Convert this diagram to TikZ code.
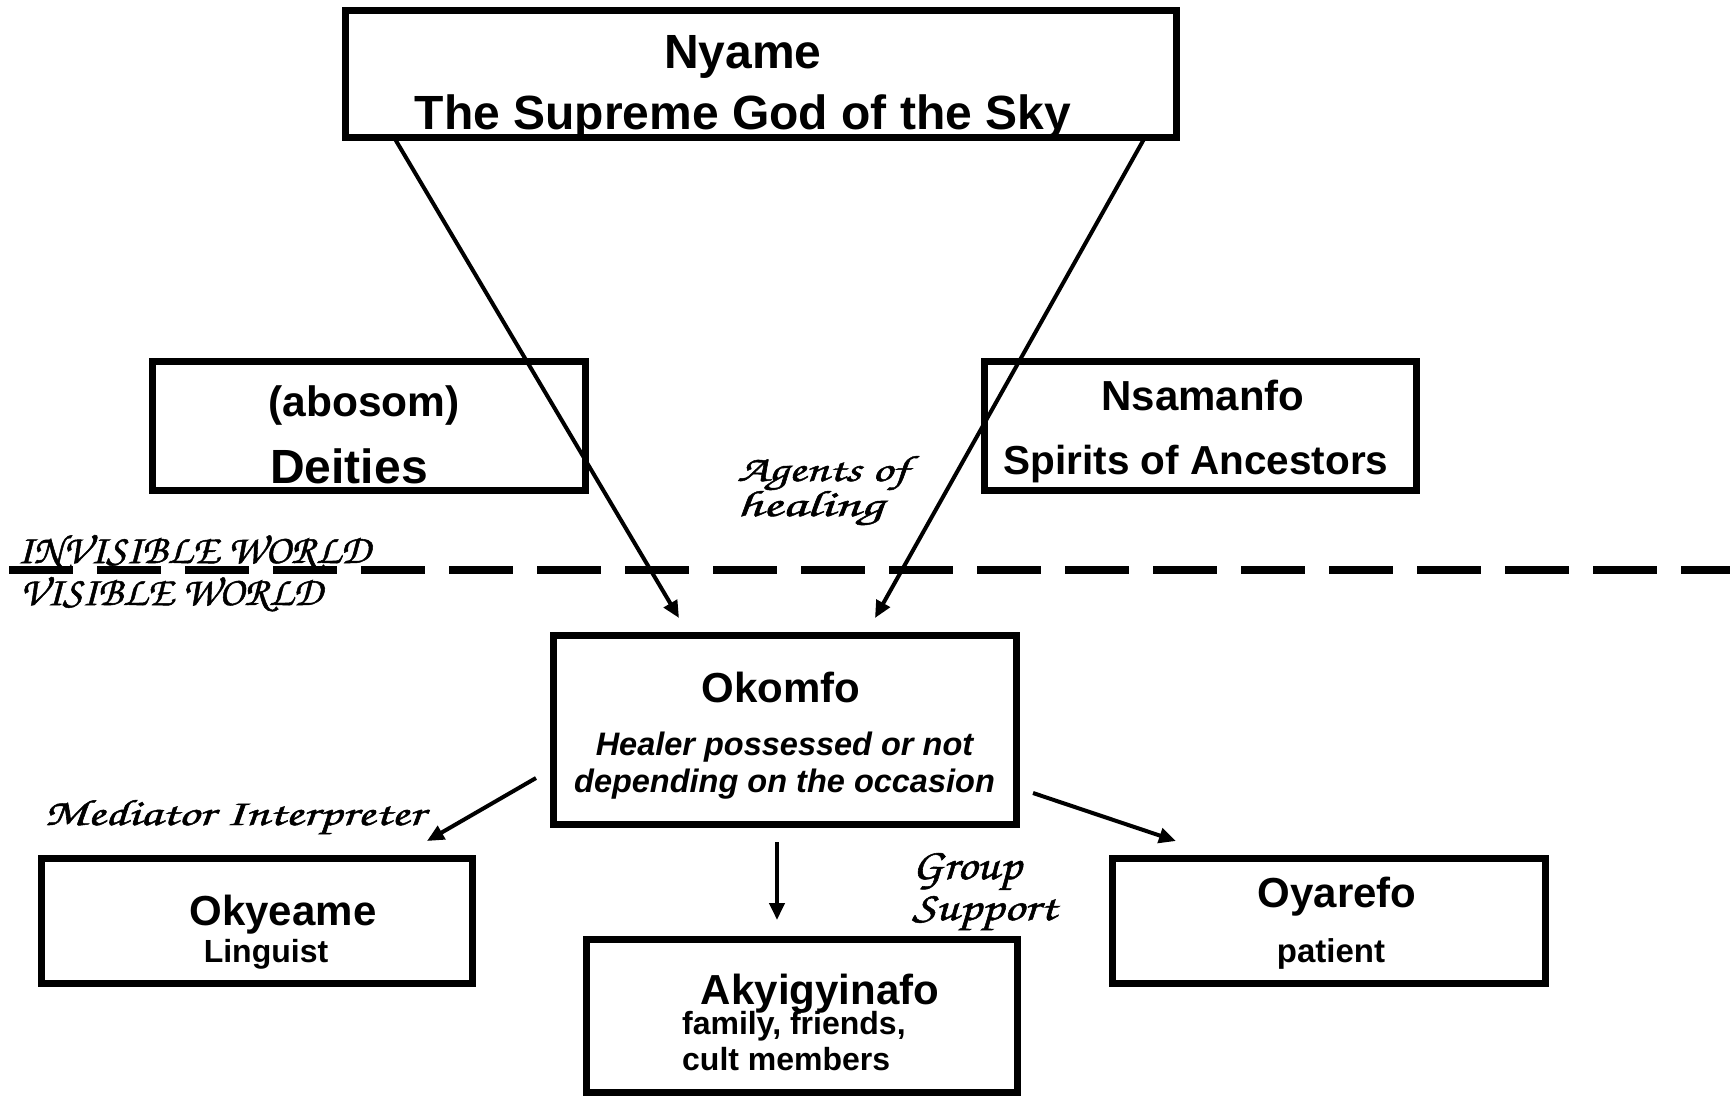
\documentclass[tikz,border=0pt]{standalone}
\usepackage{fontspec}
\usepackage{graphicx}
\setmainfont{Liberation Sans}
\newfontfamily\chorusfont[FakeBold=1.2]{TeX Gyre Chorus}
\usetikzlibrary{arrows.meta}
\newcommand\myfs[1]{\fontsize{#1}{#1}\selectfont}
\newcommand\scrtext[3]{\resizebox{#1pt}{#2pt}{\chorusfont #3}}
\tikzset{
  box/.style={draw, line width=7pt, inner sep=0pt},
  bt/.style={font=\bfseries, anchor=base, inner sep=0pt},
  st/.style={anchor=base west, inner sep=0pt},
  arr/.style={line width=4pt, -{Triangle[length=17pt,width=15pt]}},
}
\begin{document}
\begin{tikzpicture}[x=1pt,y=-1pt]
\useasboundingbox[fill=white] (0,0) rectangle (1730,1098);

% dashed separator
\coordinate (dl) at (9,570);
\coordinate (dr) at (1730,570);
\draw[line width=7.5pt, dash pattern=on 64pt off 24pt] (dl) -- (dr);

% boxes
\node[box, minimum width=831pt, minimum height=127pt] (nyame) at (760.5,73.5) {};
\node[box, minimum width=433pt, minimum height=129pt] (deities) at (368.5,425.5) {};
\node[box, minimum width=432pt, minimum height=129pt] (nsamanfo) at (1200,425.5) {};
\node[box, minimum width=463pt, minimum height=189pt] (okomfo) at (784.5,729.5) {};
\node[box, minimum width=431pt, minimum height=125pt] (okyeame) at (256.5,920.5) {};
\node[box, minimum width=433pt, minimum height=125pt] (oyarefo) at (1328.5,920.5) {};
\node[box, minimum width=431pt, minimum height=153pt] (akyi) at (801.5,1015.5) {};

% box texts
\node[bt] (t1) at (743,68) {\myfs{48}Nyame};
\node[bt] (t2) at (743,129) {\myfs{48}The Supreme God of the Sky};
\node[bt] (t3) at (364,416) {\myfs{42.5}(abosom)};
\node[bt] (t4) at (349,483) {\myfs{48}Deities};
\node[bt] (t5) at (1203,410) {\myfs{42}Nsamanfo};
\node[bt] (t6) at (1196,474) {\myfs{40.5}Spirits of Ancestors};
\node[bt] (t7) at (781,702) {\myfs{42}Okomfo};
\node[bt] (t8) at (784.5,755) {\myfs{32.5}\itshape Healer possessed or not};
\node[bt] (t9) at (784.5,792) {\myfs{32.5}\itshape depending on the occasion};
\node[bt] (t10) at (283,925) {\myfs{42}Okyeame};
\node[bt] (t11) at (266,962) {\myfs{32}Linguist};
\node[bt] (t12) at (1337,907) {\myfs{42}Oyarefo};
\node[bt] (t13) at (1331,962) {\myfs{33}patient};
\node[bt] (t14) at (820,1004) {\myfs{42}Akyigyinafo};
\node[bt, anchor=base west] (t15) at (682,1034) {\myfs{32}family, friends,};
\node[bt, anchor=base west] (t16) at (682,1070) {\myfs{32}cult members};

% script labels
\node[st] (s1) at (737,481) {\scrtext{171}{25}{Agents of}};
\node[st] (s2) at (737,516) {\scrtext{146}{25}{healing}};
\node[st] (s3) at (17,563) {\scrtext{353}{28}{INVISIBLE WORLD}};
\node[st] (s4) at (20,605) {\scrtext{302}{28}{VISIBLE WORLD}};
\node[st] (s5) at (44,825) {\scrtext{380}{25}{Mediator Interpreter}};
\node[st] (s6) at (912,879) {\scrtext{109}{26}{Group}};
\node[st] (s7) at (912,920) {\scrtext{144}{24}{Support}};

% arrow endpoints
\coordinate (a1s) at (395,139);
\coordinate (a1e) at (679,618);
\coordinate (a2s) at (1144,139);
\coordinate (a2e) at (875,618);
\coordinate (a3s) at (536,778);
\coordinate (a3e) at (427,841);
\coordinate (a4s) at (777,842);
\coordinate (a4e) at (777,920);
\coordinate (a5s) at (1033,793);
\coordinate (a5e) at (1176,841);

\draw[arr] (a1s) -- (a1e);
\draw[arr] (a2s) -- (a2e);
\draw[arr] (a3s) -- (a3e);
\draw[arr] (a4s) -- (a4e);
\draw[arr] (a5s) -- (a5e);
\end{tikzpicture}
\end{document}
